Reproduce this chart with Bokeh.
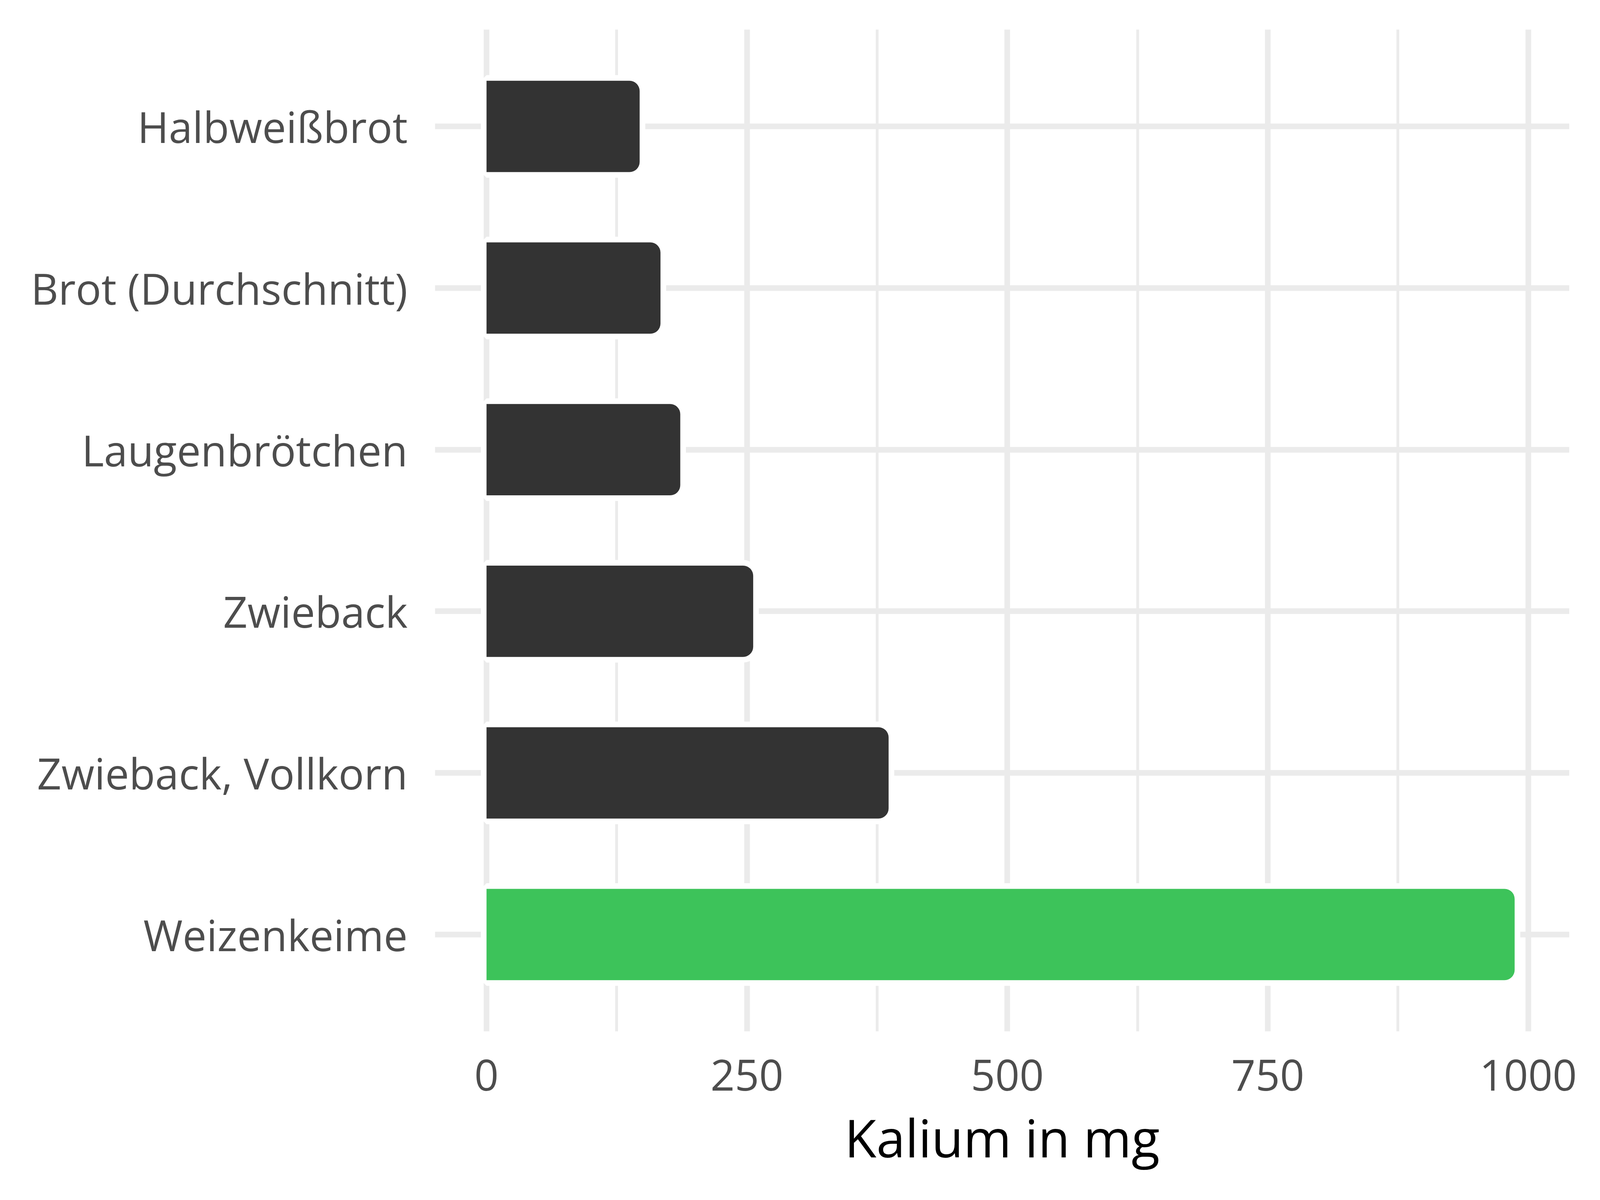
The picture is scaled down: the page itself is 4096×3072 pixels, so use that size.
from bokeh.plotting import figure
from bokeh.models import FactorRange, Range1d, FixedTicker, ColumnDataSource
from bokeh.embed import file_html
from bokeh.resources import INLINE

# ---- data ----
categories = ["Halbweißbrot", "Brot (Durchschnitt)", "Laugenbrötchen",
              "Zwieback", "Zwieback, Vollkorn", "Weizenkeime"]
values = [147, 167, 186, 256, 386, 987]
highlight = ["Weizenkeime"]
x_ticks = [0, 250, 500, 750, 1000]
x_minor_ticks = [125, 375, 625, 875]
x_limits = (-49.5, 1039.5)
x_label = "Kalium in mg"

# ---- styling ----
DARK = "#333333"
GREEN = "#3DC35A"
GRID = "#EBEBEB"
TICK_COLOR = "#4D4D4D"
FONT = "Open Sans"

colors = [GREEN if c in highlight else DARK for c in categories]
src = ColumnDataSource(dict(cat=categories, val=values, color=colors))

p = figure(
    y_range=FactorRange(factors=categories[::-1], range_padding=0.1,
                        range_padding_units="absolute"),
    x_range=Range1d(*x_limits),
    frame_width=2904, frame_height=2565,
    min_border_left=1113, min_border_top=75, min_border_right=60,
    min_border_bottom=10,
    output_backend="svg", toolbar_location=None,
)
p.outline_line_color = None
p.background_fill_color = "white"
p.border_fill_color = "white"

# grids
p.xaxis.ticker = FixedTicker(ticks=x_ticks, minor_ticks=x_minor_ticks)
p.xgrid.grid_line_color = GRID
p.xgrid.grid_line_width = 14.5
p.xgrid.minor_grid_line_color = GRID
p.xgrid.minor_grid_line_width = 7.2
p.ygrid.grid_line_color = GRID
p.ygrid.grid_line_width = 14.5

# bars: white halo then bar
p.hbar(y="cat", left=0, right="val", height=0.565, source=src,
       fill_color="white", line_color="white", line_width=29,
       border_radius=(0, 26, 26, 0))
p.hbar(y="cat", left=0, right="val", height=0.565, source=src,
       fill_color="color", line_color=None,
       border_radius=(0, 26, 26, 0))

# axes
for ax in (p.xaxis, p.yaxis):
    ax.axis_line_color = None
    ax.major_tick_line_color = None
    ax.minor_tick_line_color = None
    ax.major_tick_out = 0
    ax.major_tick_in = 0
    ax.minor_tick_out = 0
    ax.major_label_text_font = FONT
    ax.major_label_text_font_size = "109px"
    ax.major_label_text_color = TICK_COLOR

p.xaxis.major_label_standoff = 72
p.yaxis.major_label_standoff = 70
p.xaxis.axis_label = x_label
p.xaxis.axis_label_text_font = FONT
p.xaxis.axis_label_text_font_size = "133px"
p.xaxis.axis_label_text_font_style = "normal"
p.xaxis.axis_label_text_color = "black"
p.xaxis.axis_label_standoff = 26

open("out.html", "w").write(file_html(p, INLINE))
